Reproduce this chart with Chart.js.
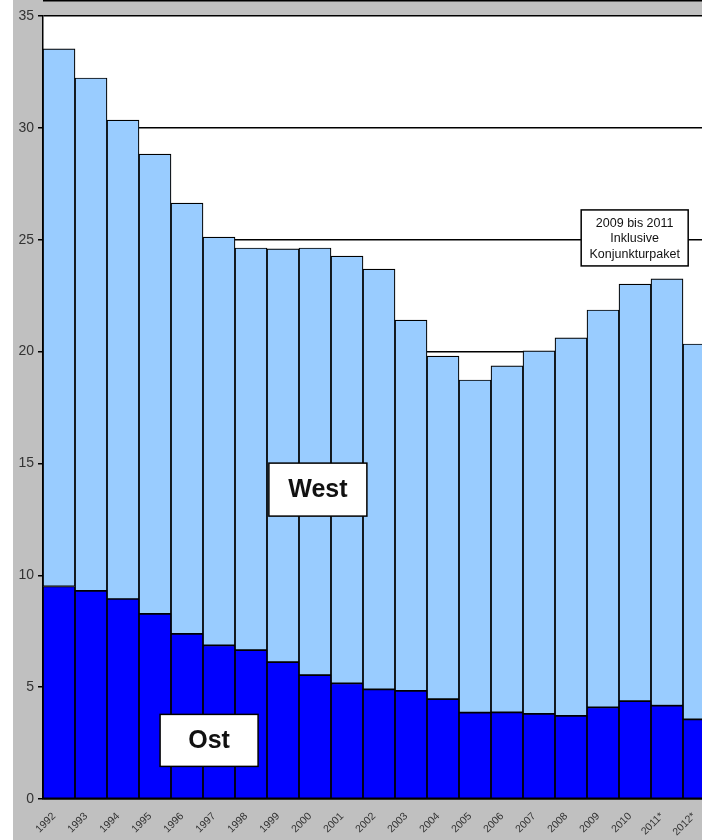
<!DOCTYPE html>
<html>
<head>
<meta charset="utf-8">
<script src="https://cdn.jsdelivr.net/npm/chart.js@4"></script>
<style>
  html, body { margin: 0; padding: 0; overflow: hidden; background: #fff; }
  #wrap { width: 702px; height: 840px; overflow: hidden; }
</style>
</head>
<body>
<div id="wrap"><canvas id="chart" width="716" height="840"></canvas></div>
<script>
const years = ['1992', '1993', '1994', '1995', '1996', '1997', '1998', '1999', '2000', '2001', '2002',
  '2003', '2004', '2005', '2006', '2007', '2008', '2009', '2010', '2011*', '2012*'];
const ost = [9.5, 9.3, 8.94, 8.27, 7.38, 6.87, 6.66, 6.12, 5.54, 5.17, 4.9,
  4.83, 4.46, 3.86, 3.87, 3.8, 3.72, 4.1, 4.37, 4.17, 3.56];
const west = [24.03, 22.93, 21.41, 20.56, 19.26, 18.25, 17.97, 18.47, 19.09, 19.1, 18.79,
  16.58, 15.34, 14.87, 15.49, 16.23, 16.89, 17.76, 18.65, 19.08, 16.78];
const yTicks = [0, 5, 10, 15, 20, 25, 30, 35];

// text boxes, placed in data units (x = category index, y = value)
const labels = [
  { lines: ['Ost'], x: 4.69, y: 2.62, w: 98, h: 52, font: 'bold 25px "Liberation Sans", Arial, sans-serif', lh: 25 },
  { lines: ['West'], x: 8.09, y: 13.83, w: 98, h: 53, font: 'bold 25px "Liberation Sans", Arial, sans-serif', lh: 25 },
  { lines: ['2009 bis 2011', 'Inklusive', 'Konjunkturpaket'], x: 17.99, y: 25.08, w: 107, h: 56,
    font: '12.5px "Liberation Sans", Arial, sans-serif', lh: 15.3 }
];

const frame = {
  id: 'frame',
  beforeDraw(chart) {
    const { ctx, width, height, chartArea: a } = chart;
    ctx.save();
    ctx.fillStyle = '#ffffff';
    ctx.fillRect(0, 0, width, height);
    ctx.fillStyle = '#c0c0c0';
    ctx.fillRect(13, 0, width - 13, height);
    ctx.fillStyle = '#ffffff';
    ctx.fillRect(a.left, a.top, a.right - a.left, a.bottom - a.top);
    ctx.strokeStyle = '#000';
    ctx.lineWidth = 1.5;
    ctx.beginPath();
    ctx.moveTo(a.left, 0.75);
    ctx.lineTo(width, 0.75);
    ctx.stroke();
    ctx.restore();
  },
  afterDraw(chart) {
    const { ctx, scales: { x, y } } = chart;
    ctx.save();
    labels.forEach(l => {
      const cx = x.getPixelForValue(l.x);
      const cy = y.getPixelForValue(l.y);
      ctx.fillStyle = '#fff';
      ctx.fillRect(cx - l.w / 2, cy - l.h / 2, l.w, l.h);
      ctx.strokeStyle = '#000';
      ctx.lineWidth = 1.5;
      ctx.strokeRect(cx - l.w / 2, cy - l.h / 2, l.w, l.h);
      ctx.fillStyle = '#111';
      ctx.font = l.font;
      ctx.textAlign = 'center';
      ctx.textBaseline = 'middle';
      const start = cy - (l.lines.length - 1) * l.lh / 2;
      l.lines.forEach((t, i) => ctx.fillText(t, cx, start + i * l.lh + 1));
    });
    ctx.restore();
  }
};

new Chart(document.getElementById('chart'), {
  type: 'bar',
  data: {
    labels: years,
    datasets: [
      { label: 'Ost', data: ost, backgroundColor: '#0000ff', borderColor: '#000', borderWidth: 1.2, borderSkipped: false },
      { label: 'West', data: west, backgroundColor: '#99ccff', borderColor: '#000', borderWidth: 1.2, borderSkipped: false }
    ]
  },
  options: {
    responsive: false,
    animation: false,
    devicePixelRatio: 1,
    layout: { padding: { top: 16, right: 1, left: 0, bottom: 0 } },
    datasets: { bar: { categoryPercentage: 1, barPercentage: 1 } },
    plugins: { legend: { display: false }, tooltip: { enabled: false } },
    scales: {
      x: {
        stacked: true,
        grid: { display: false, drawTicks: false },
        border: { display: true, color: '#000', width: 1.5 },
        ticks: {
          color: '#333',
          font: { family: '"Liberation Sans", Arial, sans-serif', size: 10.5 },
          minRotation: 45, maxRotation: 45,
          autoSkip: false,
          padding: 11,
          labelOffset: -5
        },
        afterFit(s) {
          s.height = 41;
          s.paddingLeft = 0;
          s.paddingRight = 0;
        }
      },
      y: {
        stacked: true,
        min: 0, max: 35,
        afterBuildTicks(s) { s.ticks = yTicks.map(v => ({ value: v })); },
        grid: { color: '#000', lineWidth: 1.5, tickLength: 5, drawTicks: true },
        border: { display: true, color: '#000', width: 1.5 },
        ticks: {
          color: '#333',
          font: { family: '"Liberation Sans", Arial, sans-serif', size: 14 },
          padding: 4
        },
        afterFit(s) { s.width = 43; }
      }
    }
  },
  plugins: [frame]
});
</script>
</body>
</html>
